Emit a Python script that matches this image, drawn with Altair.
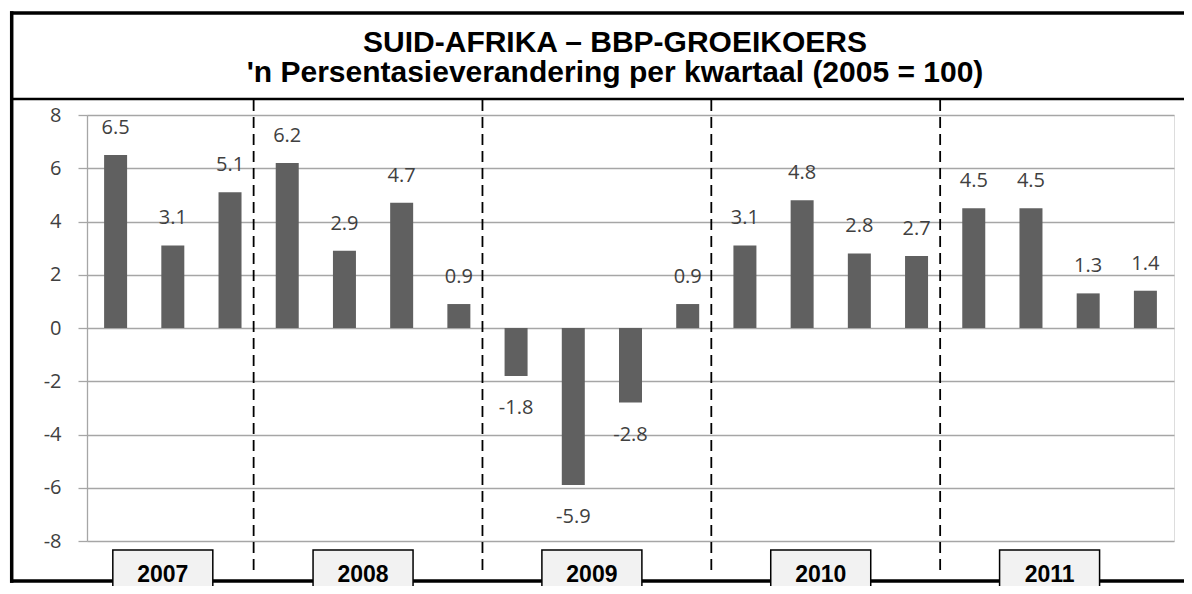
import altair as alt
import numpy as np
import pandas as pd

# ---- data ----
years = ["2007", "2008", "2009", "2010", "2011"]
quarters_per_year = [3, 4, 4, 4, 4]
growth = [6.5, 3.1, 5.1,
          6.2, 2.9, 4.7, 0.9,
          -1.8, -5.9, -2.8, 0.9,
          3.1, 4.8, 2.8, 2.7,
          4.5, 4.5, 1.3, 1.4]
y_ticks = [-8, -6, -4, -2, 0, 2, 4, 6, 8]
title_lines = ["SUID-AFRIKA – BBP-GROEIKOERS",
               "'n Persentasieverandering per kwartaal (2005 = 100)"]

# ---- derived tables ----
year_col = np.repeat(years, quarters_per_year)
bars_df = pd.DataFrame({"year": year_col,
                        "pos": np.arange(len(growth)) + 0.5,
                        "value": growth,
                        "label": [f"{v:.1f}" for v in growth]})
ends = np.cumsum(quarters_per_year)
starts = ends - np.array(quarters_per_year)
year_df = pd.DataFrame({"year": years, "center": (starts + ends) / 2.0})
bound_df = pd.DataFrame({"b": ends[:-1]})
one = pd.DataFrame({"k": [0]})

W, H = 1087, 426
GRID = "#a6a6a6"
LABEL = "#404040"

xs = alt.Scale(domain=[0, len(growth)], nice=False, zero=False, padding=0)
ys = alt.Scale(domain=[-8, 8], nice=False, padding=0)
y_axis = alt.Axis(values=y_ticks, title=None, labelFont="Open Sans",
                  labelFontSize=20, labelColor=LABEL, labelPadding=17,
                  labelExpr="'' + datum.value",
                  tickSize=9, tickColor=GRID, tickWidth=1.3,
                  domainColor=GRID, domainWidth=1.3,
                  gridColor=GRID, gridWidth=1.3)

bars = alt.Chart(bars_df).mark_bar(color="#606060", size=23, orient="vertical").encode(
    x=alt.X("pos:Q", scale=xs, axis=None),
    y=alt.Y("value:Q", scale=ys, axis=y_axis),
)

lab_pos = alt.Chart(bars_df).transform_filter("datum.value >= 0").mark_text(
    font="Open Sans", fontSize=20, color=LABEL, baseline="middle", dy=-27
).encode(
    x=alt.X("pos:Q", scale=xs, axis=None),
    y=alt.Y("value:Q", scale=ys, axis=y_axis),
    text="label:N",
)
lab_neg = alt.Chart(bars_df).transform_filter("datum.value < 0").mark_text(
    font="Open Sans", fontSize=20, color=LABEL, baseline="middle", dy=32
).encode(
    x=alt.X("pos:Q", scale=xs, axis=None),
    y=alt.Y("value:Q", scale=ys, axis=y_axis),
    text="label:N",
)

dashes = alt.Chart(bound_df).mark_rule(
    color="black", strokeWidth=1.8, strokeDash=[11, 6], xOffset=-5
).encode(
    x=alt.X("b:Q", scale=xs, axis=None),
    y=alt.value(-15),
    y2=alt.value(457),
)

RIGHT = 1097  # right edge of the picture, in view pixels


def hline(y, w):
    return alt.Chart(one).mark_rule(color="black", strokeWidth=w).encode(
        x=alt.value(-77), x2=alt.value(RIGHT), y=alt.value(y))


frame_top = hline(-102, 3.5)
frame_title = hline(-16, 2.5)
frame_bottom = hline(466, 3.5)
frame_left = alt.Chart(one).mark_rule(color="black", strokeWidth=3.5).encode(
    x=alt.value(-75.3), y=alt.value(-103.75), y2=alt.value(467.75))


def title_line(i, y):
    return alt.Chart(one).mark_text(
        text=title_lines[i], font="Liberation Sans", fontWeight="bold",
        fontSize=30, color="black", baseline="alphabetic", align="center"
    ).encode(x=alt.value(528), y=alt.value(y))


title1 = title_line(0, -63)
title2 = title_line(1, -33)

year_boxes = alt.Chart(year_df).mark_rect(
    fill="#f2f2f2", stroke="black", strokeWidth=1.5, xOffset=-60, x2Offset=40
).encode(
    x=alt.X("center:Q", scale=xs, axis=None),
    x2="center:Q",
    y=alt.value(435),
    y2=alt.value(495),
)
year_text = alt.Chart(year_df).mark_text(
    font="Liberation Sans", fontWeight="bold", fontSize=23, color="black",
    baseline="middle", dx=-10
).encode(
    x=alt.X("center:Q", scale=xs, axis=None),
    y=alt.value(459.5),
    text="year:N",
)

chart = alt.layer(
    bars, lab_pos, lab_neg, dashes,
    frame_top, frame_title, frame_left, frame_bottom,
    year_boxes, year_text, title1, title2,
).properties(
    width=W, height=H,
    autosize=alt.AutoSizeParams(type="none"),
    padding={"left": 79, "top": 107, "right": 10, "bottom": 45},
).configure_view(strokeWidth=0).configure(background="white")

chart.save("out.html", embed_options={"renderer": "svg", "actions": False})
